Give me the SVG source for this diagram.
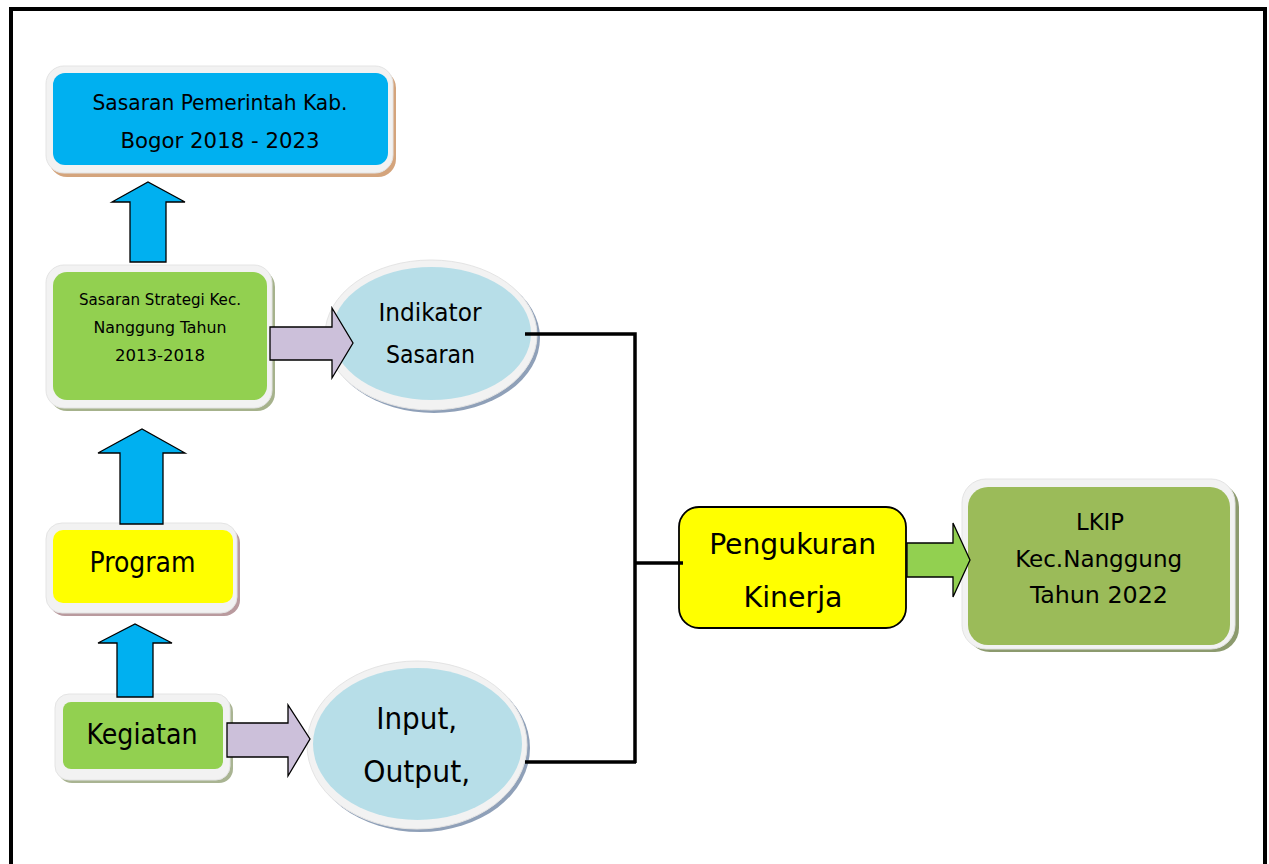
<svg xmlns="http://www.w3.org/2000/svg" width="1269" height="864" viewBox="0 0 1269 864">
<style>
text{font-family:"DejaVu Sans Condensed","DejaVu Sans","Liberation Sans",sans-serif;font-stretch:condensed;fill:#000;text-anchor:middle}
.frm{fill:#F2F2F2;stroke:#E4E4E4;stroke-width:1}
.arr{stroke:#000;stroke-width:1.3;stroke-linejoin:miter}
.up{fill:#00B0F0}
.pur{fill:#CCC0DA}
.grn{fill:#92D050}
.con{fill:none;stroke:#000;stroke-width:3.5}
</style>
<rect width="1269" height="864" fill="#fff"/>
<rect x="11" y="9" width="1254" height="880" fill="none" stroke="#000" stroke-width="4"/>

<g id="sasaran-pemerintah">
<rect x="49" y="70" width="347" height="107" rx="18" fill="#D4A47C"/>
<rect x="46" y="66" width="347" height="107" rx="18" class="frm"/>
<rect x="53" y="73" width="335" height="92" rx="12" fill="#00B0F0"/>
<text x="220" y="110" font-size="22" textLength="255" lengthAdjust="spacingAndGlyphs">Sasaran Pemerintah Kab.</text>
<text x="220" y="148" font-size="22" textLength="199" lengthAdjust="spacingAndGlyphs">Bogor 2018 - 2023</text>
</g>

<g id="sasaran-strategi">
<rect x="49" y="269" width="226" height="142" rx="18" fill="#A6B28C"/>
<rect x="46" y="265" width="226" height="143" rx="18" class="frm"/>
<rect x="53" y="272" width="214" height="128" rx="14" fill="#92D050"/>
<text x="160" y="305" font-size="16.5" textLength="162" lengthAdjust="spacingAndGlyphs">Sasaran Strategi Kec.</text>
<text x="160" y="333" font-size="16.5" textLength="133" lengthAdjust="spacingAndGlyphs">Nanggung Tahun</text>
<text x="160" y="361" font-size="16.5" textLength="90" lengthAdjust="spacingAndGlyphs">2013-2018</text>
</g>

<g id="program">
<rect x="49" y="527" width="191" height="89" rx="16" fill="#B99A9E"/>
<rect x="46" y="523" width="191" height="90" rx="16" class="frm"/>
<rect x="53" y="530" width="180" height="73" rx="10" fill="#FFFF00"/>
<text x="142.5" y="572" font-size="27.5" textLength="106" lengthAdjust="spacingAndGlyphs">Program</text>
</g>

<g id="kegiatan">
<rect x="58" y="698" width="175" height="85" rx="14" fill="#A9B492"/>
<rect x="55" y="694" width="175" height="86" rx="14" class="frm"/>
<rect x="63" y="702" width="160" height="67" rx="8" fill="#92D050"/>
<text x="142" y="744" font-size="27.5" textLength="111" lengthAdjust="spacingAndGlyphs">Kegiatan</text>
</g>

<g id="indikator-sasaran">
<ellipse cx="434" cy="338" rx="106" ry="75" fill="#8FA0B8"/>
<ellipse cx="431" cy="335" rx="106" ry="75" class="frm"/>
<ellipse cx="431.5" cy="333.5" rx="99.5" ry="66.5" fill="#B7DEE8"/>
<text x="430" y="321" font-size="25" textLength="103" lengthAdjust="spacingAndGlyphs">Indikator</text>
<text x="430.5" y="363" font-size="25" textLength="89" lengthAdjust="spacingAndGlyphs">Sasaran</text>
</g>

<g id="input-output">
<ellipse cx="420" cy="748" rx="110" ry="84" fill="#8FA0B8"/>
<ellipse cx="417" cy="745" rx="110" ry="84" class="frm"/>
<ellipse cx="417.5" cy="744" rx="104.5" ry="76" fill="#B7DEE8"/>
<text x="416.7" y="729" font-size="29.5" textLength="81" lengthAdjust="spacingAndGlyphs">Input,</text>
<text x="416.7" y="782" font-size="29.5" textLength="107" lengthAdjust="spacingAndGlyphs">Output,</text>
</g>

<g id="pengukuran-kinerja">
<rect x="679" y="507" width="227" height="121" rx="20" fill="#FFFF00" stroke="#000" stroke-width="1.8"/>
<text x="792.7" y="554" font-size="28.5" textLength="167" lengthAdjust="spacingAndGlyphs">Pengukuran</text>
<text x="793" y="607" font-size="28.5" textLength="99" lengthAdjust="spacingAndGlyphs">Kinerja</text>
</g>

<g id="lkip">
<rect x="966" y="483" width="273" height="169" rx="24" fill="#8C9A6E"/>
<rect x="962" y="479" width="273" height="170" rx="24" class="frm"/>
<rect x="968" y="487" width="262" height="158" rx="20" fill="#9BBB59"/>
<text x="1100" y="530" font-size="23.5" textLength="48" lengthAdjust="spacingAndGlyphs">LKIP</text>
<text x="1098.7" y="567" font-size="23.5" textLength="167" lengthAdjust="spacingAndGlyphs">Kec.Nanggung</text>
<text x="1099" y="603" font-size="23.5" textLength="138" lengthAdjust="spacingAndGlyphs">Tahun 2022</text>
</g>

<g id="connectors">
<polygon class="arr up" points="112,202 148,182 185,202 166,202 166,262 130,262 130,202"/>
<polygon class="arr up" points="98,453 142,429 185,453 163,453 163,524 120,524 120,453"/>
<polygon class="arr up" points="98,643 135,624 172,643 153,643 153,697 117,697 117,643"/>
<polygon class="arr pur" points="270,327 332,327 332,308 353,343 332,378 332,360 270,360"/>
<polygon class="arr pur" points="227,723 288,723 288,705 310,739 288,776 288,757 227,757"/>
<polygon class="arr grn" points="907,543 953,543 953,523 970,560 953,597 953,577 907,577"/>
<path class="con" d="M525,334 H635 V763"/>
<path class="con" d="M525,762 H636"/>
<path class="con" d="M635,563 H683"/>
</g>
</svg>
